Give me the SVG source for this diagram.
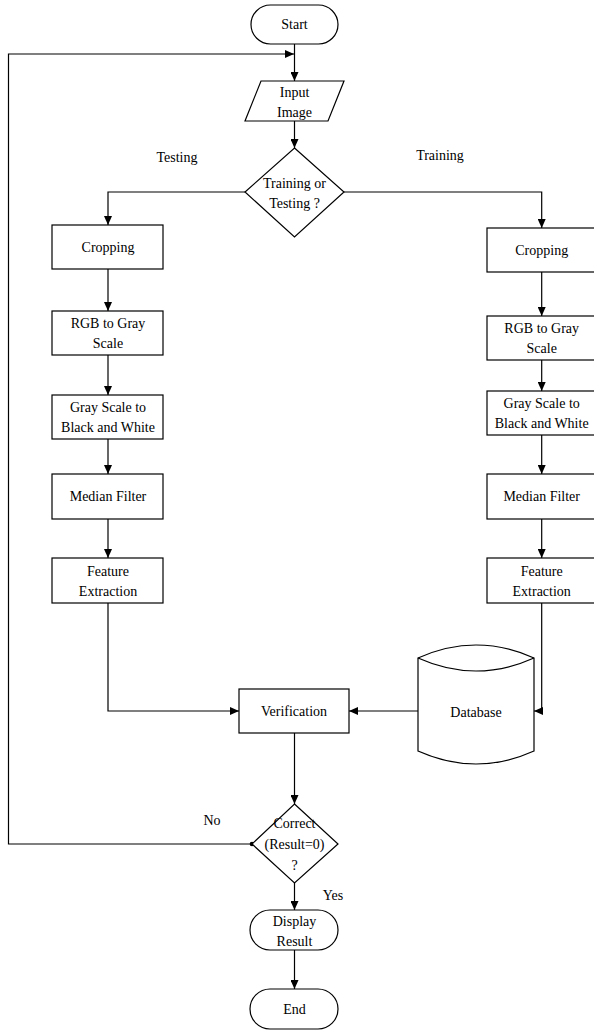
<svg xmlns="http://www.w3.org/2000/svg" width="594" height="1030" viewBox="0 0 594 1030">
<style>
.s{fill:#fff;stroke:#000;stroke-width:1.2}
.c{fill:none;stroke:#000;stroke-width:1.2}
text{font-family:'Liberation Serif','Times New Roman',Times,'DejaVu Serif',serif;font-size:14px;fill:#000;text-anchor:middle}
</style>
<defs>
<marker id="a" markerWidth="10" markerHeight="8" refX="9" refY="4" orient="auto" markerUnits="userSpaceOnUse">
<path d="M0,0 L9,4 L0,8 Z" fill="#000"/>
</marker>
</defs>
<rect width="594" height="1030" fill="#fff"/>
<g id="connectors">
<path class="c" d="M294.5,44 V81" marker-end="url(#a)"/>
<path class="c" d="M294.5,121 V148" marker-end="url(#a)"/>
<path class="c" d="M245,192 H108 V225" marker-end="url(#a)"/>
<path class="c" d="M344,192 H541.7 V228" marker-end="url(#a)"/>
<path class="c" d="M108,269 V311" marker-end="url(#a)"/>
<path class="c" d="M108,355 V395" marker-end="url(#a)"/>
<path class="c" d="M108,439 V474" marker-end="url(#a)"/>
<path class="c" d="M108,519 V558" marker-end="url(#a)"/>
<path class="c" d="M541.7,272 V316" marker-end="url(#a)"/>
<path class="c" d="M541.7,360 V391" marker-end="url(#a)"/>
<path class="c" d="M541.7,435 V474" marker-end="url(#a)"/>
<path class="c" d="M541.7,519 V558" marker-end="url(#a)"/>
<path class="c" d="M108,603 V711 H239" marker-end="url(#a)"/>
<path class="c" d="M418,711 H349" marker-end="url(#a)"/>
<path class="c" d="M541.7,603 V711 H534" marker-end="url(#a)"/>
<path class="c" d="M294.5,733 V804" marker-end="url(#a)"/>
<path class="c" d="M252,844 H8.5 V54 H294" marker-end="url(#a)"/>
<circle cx="252" cy="844" r="2.3" fill="#000"/>
<path class="c" d="M294.5,883 V910" marker-end="url(#a)"/>
<path class="c" d="M294.5,950 V989" marker-end="url(#a)"/>
<text x="177" y="162" font-family="Liberation Serif, serif">Testing</text>
<text x="440" y="160" font-family="Liberation Serif, serif">Training</text>
<text x="212" y="825" font-family="Liberation Serif, serif">No</text>
<text x="333" y="900" font-family="Liberation Serif, serif">Yes</text>
</g>
<g id="start">
<rect class="s" x="251" y="5" width="87" height="39" rx="19.5"/>
<text x="294.5" y="29">Start</text>
</g>
<g id="input">
<polygon class="s" points="261,81 344,81 328,121 245,121"/>
<text x="294.5" y="97">Input</text>
<text x="294.5" y="117">Image</text>
</g>
<g id="decision">
<polygon class="s" points="294.5,148 344,192 294.5,237 245,192"/>
<text x="294.5" y="188">Training or</text>
<text x="294.5" y="208">Testing ?</text>
</g>
<g id="l-crop">
<rect class="s" x="52" y="225" width="111" height="44"/>
<text x="108" y="252">Cropping</text>
</g>
<g id="l-rgb">
<rect class="s" x="52" y="311" width="111" height="44"/>
<text x="108" y="328">RGB to Gray</text>
<text x="108" y="348">Scale</text>
</g>
<g id="l-bw">
<rect class="s" x="52" y="395" width="111" height="44"/>
<text x="108" y="412">Gray Scale to</text>
<text x="108" y="432">Black and White</text>
</g>
<g id="l-median">
<rect class="s" x="52" y="474" width="111" height="45"/>
<text x="108" y="501">Median Filter</text>
</g>
<g id="l-feature">
<rect class="s" x="52" y="558" width="111" height="45"/>
<text x="108" y="576">Feature</text>
<text x="108" y="596">Extraction</text>
</g>
<g id="r-crop">
<rect class="s" x="487" y="228" width="110" height="44"/>
<text x="541.7" y="255">Cropping</text>
</g>
<g id="r-rgb">
<rect class="s" x="487" y="316" width="110" height="44"/>
<text x="541.7" y="333">RGB to Gray</text>
<text x="541.7" y="353">Scale</text>
</g>
<g id="r-bw">
<rect class="s" x="487" y="391" width="110" height="44"/>
<text x="541.7" y="408">Gray Scale to</text>
<text x="541.7" y="428">Black and White</text>
</g>
<g id="r-median">
<rect class="s" x="487" y="474" width="110" height="45"/>
<text x="541.7" y="501">Median Filter</text>
</g>
<g id="r-feature">
<rect class="s" x="487" y="558" width="110" height="45"/>
<text x="541.7" y="576">Feature</text>
<text x="541.7" y="596">Extraction</text>
</g>
<g id="verification">
<rect class="s" x="239" y="689" width="110" height="44"/>
<text x="294" y="716">Verification</text>
</g>
<g id="database">
<path class="s" d="M418,658 Q476,632 534,658 V751 Q476,777 418,751 Z"/>
<path class="c" d="M418,658 Q476,684 534,658"/>
<text x="476" y="717">Database</text>
</g>
<g id="correct">
<polygon class="s" points="294.5,804 338,844 294.5,883 252,844"/>
<text x="294.5" y="828">Correct</text>
<text x="294.5" y="849">(Result=0)</text>
<text x="294.5" y="870">?</text>
</g>
<g id="display">
<rect class="s" x="250" y="910" width="88" height="40" rx="20"/>
<text x="294.5" y="926">Display</text>
<text x="294.5" y="946">Result</text>
</g>
<g id="end">
<rect class="s" x="250" y="989" width="88" height="40" rx="20"/>
<text x="294.5" y="1014">End</text>
</g>
</svg>
